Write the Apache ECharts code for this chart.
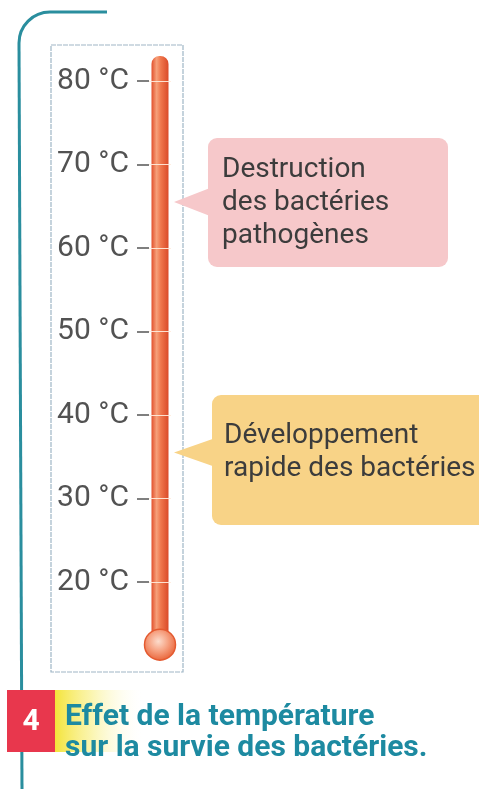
<!DOCTYPE html>
<html lang="fr">
<head>
  <meta charset="UTF-8" />
  <title>Effet de la température</title>
  <script src="https://cdn.jsdelivr.net/npm/echarts@6.0.0/dist/echarts.min.js"></script>
</head>
<body style="margin: 0; background: #fff">
  <div id="main" style="width: 479px; height: 789px"></div>
  <script type="text/javascript">
    var tickTemps = [20, 30, 40, 50, 60, 70, 80];
    var tubeTop = [83];          // haut de la colonne (°C)
    var bulbTemp = [12.5];       // centre du réservoir
    var zoneTemps = [65.5, 35.5]; // où pointent les bulles
    var zoneTexts = ['Destruction\ndes bactéries\npathogènes', 'Développement\nrapide des bactéries'];
    var captionNum = '4';
    var captionLines = ['Effet de la température', 'sur la survie des bactéries.'];

    var dom = document.getElementById('main');
    var myChart = echarts.init(dom, null, { renderer: 'canvas' });

    var option = {
      animation: false,
      backgroundColor: '#fff',
      grid: { left: 149, width: 22, top: 47.6, height: 601.2 },
      xAxis: {
        type: 'category',
        data: ['T'],
        show: false
      },
      yAxis: {
        type: 'value',
        min: 12,
        max: 84,
        axisLine: { show: false },
        splitLine: { show: false },
        axisTick: {
          show: true,
          length: 12,
          customValues: tickTemps,
          lineStyle: { color: '#555', width: 1.5 }
        },
        axisLabel: {
          customValues: tickTemps,
          margin: 20,
          formatter: '{value} °C',
          color: '#525252',
          fontFamily: 'Roboto',
          fontSize: 30
        }
      },
      series: [
        {
          // colonne du thermomètre
          type: 'bar',
          data: tubeTop,
          barWidth: 17,
          itemStyle: {
            color: new echarts.graphic.LinearGradient(0, 0, 1, 0, [
              { offset: 0, color: '#e2502c' },
              { offset: 0.3, color: '#f6a07a' },
              { offset: 0.55, color: '#ef764c' },
              { offset: 1, color: '#da4a28' }
            ]),
            borderRadius: [8, 8, 0, 0]
          },
          markLine: {
            silent: true,
            symbol: 'none',
            label: { show: false },
            lineStyle: { color: 'rgba(255,236,222,0.9)', width: 1, type: 'solid' },
            data: tickTemps.map(function (v) { return { yAxis: v }; })
          }
        },
        {
          // réservoir
          type: 'scatter',
          data: [['T', bulbTemp[0]]],
          symbol: 'circle',
          symbolSize: 31,
          itemStyle: {
            color: new echarts.graphic.RadialGradient(0.45, 0.4, 0.6, [
              { offset: 0, color: '#fcdccc' },
              { offset: 0.5, color: '#f6a282' },
              { offset: 1, color: '#e9653a' }
            ]),
            borderColor: '#e45a30',
            borderWidth: 1.5,
            opacity: 1
          }
        }
      ]
    };
    myChart.setOption(option);

    // bulles + cadre + légende
    var boxes = [
      { x: 208, y: 138, w: 240, h: 129, fill: '#f6c8ca', tx: 222, ty: 203 },
      { x: 212, y: 395, w: 285, h: 130, fill: '#f8d387', tx: 224, ty: 452 }
    ];
    var tipX = myChart.convertToPixel({ xAxisIndex: 0 }, 'T') + 14;
    var graphics = [];

    // cadre
    graphics.push({
      type: 'rect', z: 0,
      shape: { x: 51, y: 45, width: 132, height: 627 },
      style: { fill: null, stroke: '#9fb6c6', lineWidth: 1.2, lineDash: [5, 1] }
    });
    // trait bleu (crochet en haut à gauche)
    var teal = { stroke: '#2a8e9e', lineWidth: 3, fill: null };
    graphics.push({ type: 'line', z: 0, shape: { x1: 50, y1: 12, x2: 107, y2: 12 }, style: teal });
    graphics.push({
      type: 'arc', z: 0,
      shape: { cx: 50, cy: 43, r: 31, startAngle: Math.PI, endAngle: Math.PI * 1.5 },
      style: teal
    });
    graphics.push({ type: 'line', z: 0, shape: { x1: 19, y1: 43, x2: 22, y2: 789 }, style: teal });

    zoneTexts.forEach(function (t, i) {
      var b = boxes[i];
      var tipY = myChart.convertToPixel({ yAxisIndex: 0 }, zoneTemps[i]);
      graphics.push({
        type: 'rect', z: 10,
        shape: { x: b.x, y: b.y, width: b.w, height: b.h, r: 9 },
        style: { fill: b.fill }
      });
      graphics.push({
        type: 'polygon', z: 10,
        shape: { points: [[tipX, tipY], [b.x + 2, tipY - 14], [b.x + 2, tipY + 14]] },
        style: { fill: b.fill }
      });
      graphics.push({
        type: 'text', z: 11,
        x: b.tx, y: b.ty,
        style: {
          text: t,
          fill: '#3c3c3c',
          font: '28px Roboto',
          lineHeight: 33,
          verticalAlign: 'middle',
          align: 'left'
        }
      });
    });

    // légende "4"
    graphics.push({
      type: 'rect', z: 5,
      shape: { x: 55, y: 690, width: 90, height: 62 },
      style: {
        fill: new echarts.graphic.LinearGradient(0, 0, 1, 0, [
          { offset: 0, color: '#f4e43a' },
          { offset: 0.4, color: 'rgba(248,238,120,0.6)' },
          { offset: 1, color: 'rgba(255,255,255,0)' }
        ])
      }
    });
    graphics.push({
      type: 'rect', z: 6,
      shape: { x: 7, y: 690, width: 48, height: 62 },
      style: { fill: '#e8374d' }
    });
    graphics.push({
      type: 'text', z: 7,
      x: 31, y: 722,
      style: { text: captionNum, fill: '#fff', font: 'bold 30px Roboto', align: 'center', verticalAlign: 'middle' }
    });
    captionLines.forEach(function (t, i) {
      graphics.push({
        type: 'text', z: 7,
        x: 65, y: 717 + i * 31,
        style: { text: t, fill: '#1d8aa1', font: 'bold 30px Roboto', align: 'left', verticalAlign: 'middle' }
      });
    });

    myChart.setOption({ graphic: graphics });
    window.addEventListener('resize', myChart.resize);
  </script>
</body>
</html>
